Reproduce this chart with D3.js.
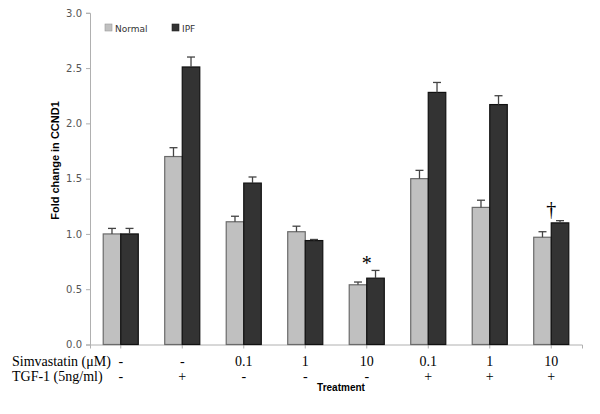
<!DOCTYPE html>
<html><head><meta charset="utf-8">
<script src="https://cdn.jsdelivr.net/npm/d3@7"></script>
<style>body{margin:0;background:#fff}</style>
</head><body>
<svg id="c" width="600" height="414"></svg>
<script>
const groups = ["g1","g2","g3","g4","g5","g6","g7","g8"];
const simvastatin = ["-","-","0.1","1","10","0.1","1","10"];
const tgf = ["-","+","-","-","-","+","+","+"];
const seriesNames = ["Normal","IPF"];
const normalVals = [1.00,1.70,1.11,1.02,0.54,1.50,1.24,0.97];
const normalErr  = [0.05,0.08,0.05,0.05,0.025,0.075,0.065,0.05];
const ipfVals    = [1.00,2.51,1.46,0.94,0.60,2.28,2.17,1.10];
const ipfErr     = [0.05,0.09,0.055,0.01,0.07,0.09,0.08,0.02];
const yTicks = [0,0.5,1.0,1.5,2.0,2.5,3.0];
const annotations = [{g:"g5", text:"*"},{g:"g8", text:"\u2020"}];

const svg = d3.select("#c");
const x0 = d3.scaleBand().domain(groups).range([90,582]).paddingInner(0.43).paddingOuter(0.215);
const x1 = d3.scaleBand().domain(seriesNames).range([0,x0.bandwidth()]);
const y = d3.scaleLinear().domain([0,3]).range([344.5,12.8]);
const colors = {Normal:"#c0c0c0", IPF:"#333333"};
const strokes = {Normal:"#6a6a6a", IPF:"#111"};

// y axis
const yAxis = d3.axisLeft(y).tickValues(yTicks).tickFormat(d3.format(".1f")).tickSize(4).tickPadding(4);
const ya = svg.append("g").attr("transform","translate(90,0)").call(yAxis);
ya.select(".domain").attr("stroke","#b0b0b0");
ya.selectAll(".tick line").attr("stroke","#b0b0b0");
ya.selectAll(".tick text").attr("fill","#555").style("font-family","Verdana, 'DejaVu Sans', sans-serif").style("font-size","10px");

// x axis
const xa = svg.append("g").attr("transform","translate(0,344.5)")
  .call(d3.axisBottom(x0).tickSize(4).tickFormat(""));
xa.select(".domain").attr("stroke","#b0b0b0");
xa.selectAll(".tick line").attr("stroke","#b0b0b0");

const data = groups.map((g,i)=>({g, vals:[
  {s:"Normal", v:normalVals[i], e:normalErr[i]},
  {s:"IPF", v:ipfVals[i], e:ipfErr[i]}]}));

const gg = svg.append("g").selectAll("g").data(data).join("g")
  .attr("transform",d=>`translate(${x0(d.g)},0)`);
gg.selectAll("rect").data(d=>d.vals).join("rect")
  .attr("x",d=>x1(d.s)).attr("width",x1.bandwidth())
  .attr("y",d=>y(d.v)).attr("height",d=>y(0)-y(d.v))
  .attr("fill",d=>colors[d.s]).attr("stroke",d=>strokes[d.s]).attr("stroke-width",1.2);
const eb = gg.selectAll("g.err").data(d=>d.vals).join("g").attr("class","err");
eb.append("line")
  .attr("x1",d=>x1(d.s)+x1.bandwidth()/2).attr("x2",d=>x1(d.s)+x1.bandwidth()/2)
  .attr("y1",d=>y(d.v)).attr("y2",d=>y(d.v+d.e)).attr("stroke","#444").attr("stroke-width",1.3);
eb.append("line")
  .attr("x1",d=>x1(d.s)+x1.bandwidth()/2-4).attr("x2",d=>x1(d.s)+x1.bandwidth()/2+4)
  .attr("y1",d=>y(d.v+d.e)).attr("y2",d=>y(d.v+d.e)).attr("stroke","#444").attr("stroke-width",1.3);

// annotations
annotations.forEach(a=>{
  const i = groups.indexOf(a.g);
  const top = Math.max(normalVals[i]+normalErr[i], ipfVals[i]+ipfErr[i]);
  const isStar = a.text==="*";
  svg.append("text").attr("x", x0(a.g)+x0.bandwidth()/2)
    .attr("y", y(top) - (isStar ? -0 : 5))
    .attr("text-anchor","middle")
    .style("font-family","'Liberation Serif', 'Times New Roman', serif")
    .style("font-size","20px").attr("fill","#000")
    .text(a.text);
});

// legend
const leg = svg.append("g");
seriesNames.forEach((s,i)=>{
  const lx = [105,172][i];
  leg.append("rect").attr("x",lx).attr("y",24).attr("width",7).attr("height",7)
    .attr("fill",colors[s]).attr("stroke",s==="Normal"?"#999":"#222").attr("stroke-width",0.6);
  leg.append("text").attr("x",lx+10).attr("y",31.5).text(s)
    .style("font-family","Verdana, 'DejaVu Sans', sans-serif").style("font-size","9px").attr("fill","#333");
});

// y title
svg.append("text").attr("transform","translate(59,160.5) rotate(-90)")
  .attr("text-anchor","middle").style("font-family","'Liberation Sans', Arial, sans-serif")
  .style("font-weight","bold").style("font-size","11px").attr("fill","#000")
  .text("Fold change in CCND1");

// bottom rows
const serif = "'Liberation Serif', 'Times New Roman', serif";
svg.append("text").attr("x",12).attr("y",366).text("Simvastatin (\u03bcM)")
  .style("font-family",serif).style("font-size","14px").attr("fill","#000");
svg.append("text").attr("x",12).attr("y",381).text("TGF-1 (5ng/ml)")
  .style("font-family",serif).style("font-size","14px").attr("fill","#000");
svg.append("g").selectAll("text").data(groups).join("text")
  .attr("x",(d)=>x0(d)+x0.bandwidth()/2).attr("y",366).attr("text-anchor","middle")
  .style("font-family",serif).style("font-size","14px").attr("fill","#000")
  .text((d,i)=>simvastatin[i]);
svg.append("g").selectAll("text").data(groups).join("text")
  .attr("x",(d)=>x0(d)+x0.bandwidth()/2).attr("y",381).attr("text-anchor","middle")
  .style("font-family",serif).style("font-size","14px").attr("fill","#000")
  .text((d,i)=>tgf[i]);
svg.append("text").attr("x",341).attr("y",391).attr("text-anchor","middle")
  .style("font-family","'Liberation Sans', Arial, sans-serif").style("font-weight","bold")
  .style("font-size","10px").attr("fill","#000").text("Treatment");
</script>
</body></html>
